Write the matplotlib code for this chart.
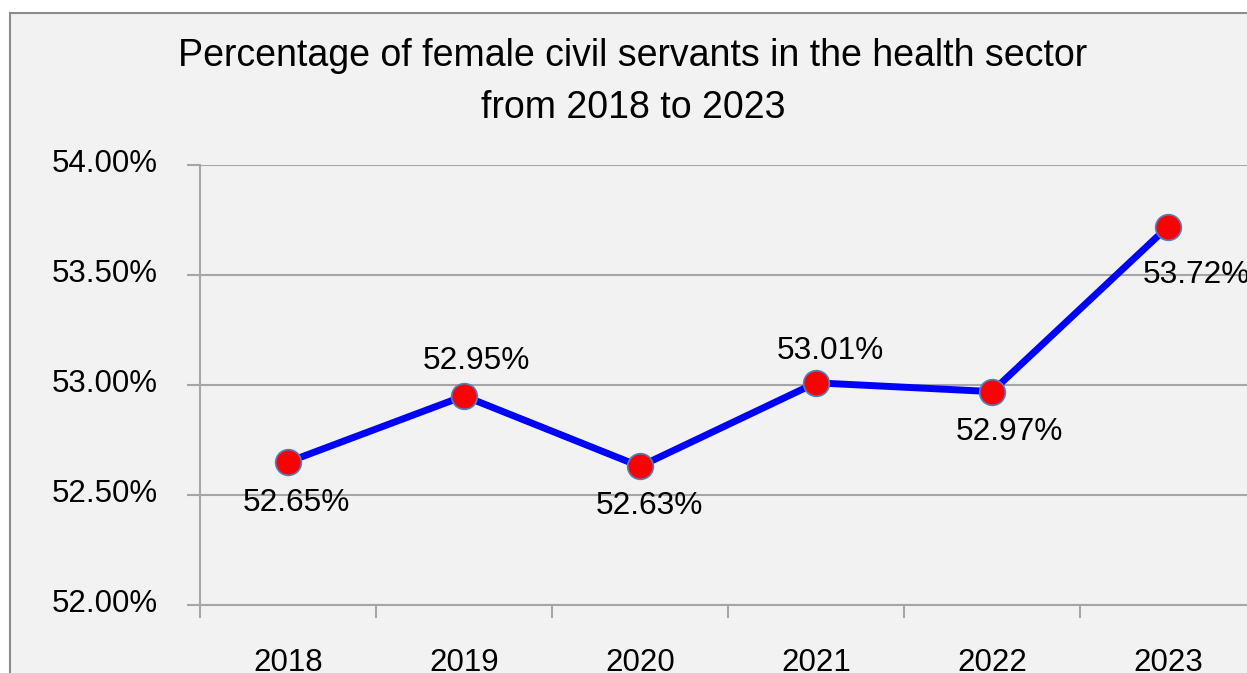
import matplotlib.pyplot as plt
from matplotlib.patches import Rectangle
from matplotlib.ticker import FixedLocator
from matplotlib.transforms import ScaledTranslation

years = ['2018', '2019', '2020', '2021', '2022', '2023']
share = [52.65, 52.95, 52.63, 53.01, 52.97, 53.72]
# label offsets in pixels (dx, dy), dy positive = down
label_off = [(8, 41), (12, -35), (9, 40), (14, -32), (17, 40), (28, 48)]
yticks = [52.0, 52.5, 53.0, 53.5, 54.0]

plt.rcParams['font.family'] = ['Liberation Sans', 'DejaVu Sans']

W, H = 1247, 673
fig = plt.figure(figsize=(W / 100, H / 100), dpi=100)
fig.patch.set_facecolor('white')

# outer chart frame (cropped at right and bottom)
fig.patches.append(Rectangle((9.5 / W, -0.1), 1.2, 1 - 12.5 / H + 0.1, transform=fig.transFigure,
                             facecolor='#f2f2f2', edgecolor='#8c8c8c', lw=1.5, zorder=-5))

ax = fig.add_axes([200 / W, 68 / H, 1056 / W, 440 / H])
ax.set_facecolor('none')
ax.set_zorder(2)

x = list(range(len(years)))
ax.plot(x, share, color='#0000ff', lw=5, zorder=3, solid_capstyle='round')
ax.plot(x, share, 'o', ms=18.5, mfc='#ff0000', mec='#4f81bd', mew=1.2, zorder=4)

for i, v in enumerate(share):
    dx, dy = label_off[i]
    ax.annotate(f'{v:.2f}%', (i, v), xytext=(dx * 0.72, -dy * 0.72), textcoords='offset points',
                ha='center', va='center', fontsize=22.8, color='black', zorder=5)

ax.set_xlim(-0.5, 5.5)
ax.set_ylim(52, 54)
ax.set_yticks(yticks)
ax.set_yticklabels([f'{t:.2f}%' for t in yticks])
ax.yaxis.grid(True, color='#a6a6a6', lw=1.5)
ax.set_axisbelow(True)

ax.set_xticks(x)
ax.set_xticklabels(years)
ax.xaxis.set_minor_locator(FixedLocator([i - 0.5 for i in range(len(years) + 1)]))
ax.tick_params(axis='x', which='major', length=0, pad=31, labelsize=22.5)
ax.tick_params(axis='x', which='minor', length=9.4, width=1.5, color='#a6a6a6', direction='out')
ax.tick_params(axis='y', which='major', length=9.4, width=1.5, color='#a6a6a6', pad=21, labelsize=22.5)

shift = ScaledTranslation(0, 4 / 100, fig.dpi_scale_trans)
for lab in ax.get_yticklabels():
    lab.set_transform(lab.get_transform() + shift)

for s in ['top', 'right']:
    ax.spines[s].set_visible(False)
for s in ['left', 'bottom']:
    ax.spines[s].set_color('#a6a6a6')
    ax.spines[s].set_linewidth(1.5)

fig.text(633 / W, 1 - 56 / H, 'Percentage of female civil servants in the health sector',
         ha='center', va='center', fontsize=27)
fig.text(633 / W, 1 - 108 / H, 'from 2018 to 2023', ha='center', va='center', fontsize=27)

fig.savefig('out.png', dpi=100, facecolor='white')
